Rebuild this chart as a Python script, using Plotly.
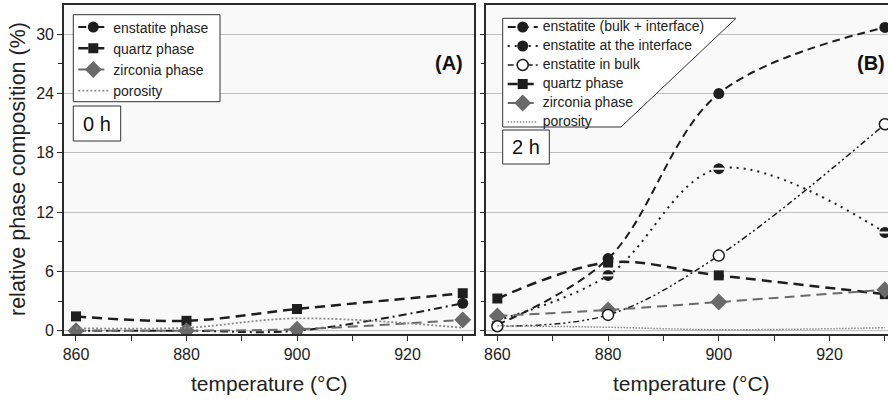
import plotly.graph_objects as go

# ---------------- data ----------------
temps = [860, 880, 900, 930]

# Panel A (0 h)
ens_A = [0.0, 0.0, 0.0, 2.77]
qtz_A = [1.45, 1.0, 2.2, 3.78]
zir_A = [0.0, 0.0, 0.15, 1.1]
por_A = [0.25, 0.3, 1.25, 0.3]

# Panel B (2 h)
ens_B = [0.6, 7.3, 24.0, 30.7]
int_B = [1.05, 5.6, 16.4, 9.95]
blk_B = [0.45, 1.6, 7.6, 20.9]
qtz_B = [3.25, 6.9, 5.6, 3.7]
zir_B = [1.5, 2.1, 2.9, 4.15]
por_B = [0.5, 0.35, 0.1, 0.3]

names_A = ["enstatite phase", "quartz phase", "zirconia phase", "porosity"]
names_B = ["enstatite (bulk + interface)", "enstatite at the interface",
           "enstatite in bulk", "quartz phase", "zirconia phase", "porosity"]

# ---------------- geometry helpers ----------------
W, H = 888, 402
ML, MR, MT, MB = 64, 0, 5, 68
PW, PH = W - ML - MR, H - MT - MB


def fx(px):
    return (px - ML) / PW


def fy(py):
    return (H - MB - py) / PH


FONT = "Liberation Sans, Arial, sans-serif"
BLACK = "#1e1e1e"
GREY = "#6a6a6a"
LGREY = "#8a8a8a"


def big(t):
    # text drawn at 14px while the legend row height follows the smaller legend font
    return '<span style="font-size:14px">' + t + '</span>'


fig = go.Figure()

# ---------------- panel A ----------------
fig.add_trace(go.Scatter(x=temps, y=ens_A, name=names_A[0], mode="lines+markers",
                         line=dict(color=BLACK, width=2, dash="8px,4px,2px,4px", shape="spline"),
                         marker=dict(symbol="circle", size=11, color=BLACK),
                         xaxis="x", yaxis="y", legend="legend"))
fig.add_trace(go.Scatter(x=temps, y=qtz_A, name=names_A[1], mode="lines+markers",
                         line=dict(color=BLACK, width=2.5, dash="10px,6px", shape="spline"),
                         marker=dict(symbol="square", size=10, color=BLACK),
                         xaxis="x", yaxis="y", legend="legend"))
fig.add_trace(go.Scatter(x=temps, y=zir_A, name=names_A[2], mode="lines+markers",
                         line=dict(color=GREY, width=2, dash="10px,6px", shape="spline"),
                         marker=dict(symbol="diamond", size=13, color=GREY),
                         xaxis="x", yaxis="y", legend="legend"))
fig.add_trace(go.Scatter(x=temps, y=por_A, name=names_A[3], mode="lines",
                         line=dict(color=LGREY, width=1.8, dash="2px,2px", shape="spline"),
                         xaxis="x", yaxis="y", legend="legend"))

# ---------------- panel B ----------------
fig.add_trace(go.Scatter(x=temps, y=ens_B, name=big(names_B[0]), mode="lines+markers",
                         line=dict(color=BLACK, width=2, dash="8px,5px", shape="spline"),
                         marker=dict(symbol="circle", size=11, color=BLACK),
                         xaxis="x2", yaxis="y2", legend="legend2", legendrank=1))
fig.add_trace(go.Scatter(x=temps, y=int_B, name=big(names_B[1]), mode="lines+markers",
                         line=dict(color=BLACK, width=2, dash="2px,5px", shape="spline"),
                         marker=dict(symbol="circle", size=11, color=BLACK),
                         xaxis="x2", yaxis="y2", legend="legend2", legendrank=2))
fig.add_trace(go.Scatter(x=temps, y=int_B, mode="markers", showlegend=False, hoverinfo="skip",
                         marker=dict(symbol="line-ew", size=8, line=dict(color="white", width=2)),
                         xaxis="x2", yaxis="y2"))
fig.add_trace(go.Scatter(x=temps, y=qtz_B, name=big(names_B[3]), mode="lines+markers",
                         line=dict(color=BLACK, width=2.5, dash="10px,6px", shape="spline"),
                         marker=dict(symbol="square", size=10, color=BLACK),
                         xaxis="x2", yaxis="y2", legend="legend2", legendrank=4))
fig.add_trace(go.Scatter(x=temps, y=zir_B, name=big(names_B[4]), mode="lines+markers",
                         line=dict(color=GREY, width=2, dash="10px,6px", shape="spline"),
                         marker=dict(symbol="diamond", size=13, color=GREY),
                         xaxis="x2", yaxis="y2", legend="legend2", legendrank=5))
fig.add_trace(go.Scatter(x=temps, y=blk_B, name=big(names_B[2]), mode="lines+markers",
                         line=dict(color=BLACK, width=1.5, dash="6px,3px,2px,3px,2px,3px", shape="spline"),
                         marker=dict(symbol="circle", size=11, color="white", line=dict(color=BLACK, width=1.5)),
                         xaxis="x2", yaxis="y2", legend="legend2", legendrank=3))
fig.add_trace(go.Scatter(x=temps, y=por_B, name=big(names_B[5]), mode="lines",
                         line=dict(color=LGREY, width=1.5, dash="1.5px,1.5px", shape="spline"),
                         xaxis="x2", yaxis="y2", legend="legend2", legendrank=6))

# ---------------- axes ----------------
axis_common = dict(showline=True, linecolor="#2a2a2a", linewidth=1.6,
                   ticks="outside", ticklen=5, tickwidth=1, tickcolor="#2a2a2a",
                   tickfont=dict(family=FONT, size=16, color="#222"), zeroline=False)

xa = dict(axis_common, tickmode="linear", tick0=860, dtick=20, showgrid=False,
          minor=dict(dtick=10, tick0=860, ticks="outside", ticklen=5, tickcolor="#2a2a2a", showgrid=False))
ya = dict(axis_common, tickmode="linear", tick0=0, dtick=6, range=[-0.334, 32.97],
          showgrid=True, gridcolor="#c0c0c0", gridwidth=1,
          minor=dict(dtick=3, tick0=0, ticks="outside", ticklen=4, tickcolor="#2a2a2a", showgrid=False))

fig.update_layout(
    width=W, height=H,
    margin=dict(l=ML, r=MR, t=MT, b=MB, autoexpand=False),
    paper_bgcolor="white", plot_bgcolor="#f9f9f9",
    font=dict(family=FONT, color="#222"),
    xaxis=dict(xa, domain=[0, fx(474.3)], range=[857.83, 932.09], mirror=True, anchor="y"),
    yaxis=dict(ya, domain=[0, 1], mirror=True, anchor="x"),
    xaxis2=dict(xa, domain=[fx(486.3), 1], range=[858.0, 930.57], mirror=True, anchor="y2"),
    yaxis2=dict(ya, domain=[0, 1], mirror=False, anchor="x2", showticklabels=False),
    legend=dict(x=fx(73.3), y=fy(11.5), xanchor="left", yanchor="top",
                bgcolor="rgba(0,0,0,0)", borderwidth=0,
                font=dict(family=FONT, size=14, color="#222"), tracegroupgap=0),
    legend2=dict(x=fx(502.7), y=fy(12.5), xanchor="left", yanchor="top",
                 bgcolor="rgba(0,0,0,0)", borderwidth=0,
                 font=dict(family=FONT, size=10.77, color="#222"), tracegroupgap=0),
    showlegend=True,
)

# legend frame for panel A
fig.add_shape(type="rect", xref="paper", yref="paper", x0=fx(73.3), x1=fx(220), y0=fy(101.7), y1=fy(14.7),
              line=dict(color="#333", width=1), fillcolor="white", layer="above")

# legend polygon for panel B
p = [(502.7, 18.3), (736, 18.3), (621, 127), (502.7, 127)]
path = "M " + " L ".join(f"{fx(a):.5f},{fy(b):.5f}" for a, b in p) + " Z"
fig.add_shape(type="path", path=path, xref="paper", yref="paper",
              line=dict(color="#333", width=1), fillcolor="white", layer="above")

# boxed time labels
for (x0, y0, x1, y1, t) in [(73.3, 106, 120.7, 141, "0 h"), (502.7, 130, 549.3, 164, "2 h")]:
    fig.add_shape(type="rect", xref="paper", yref="paper", x0=fx(x0), x1=fx(x1), y0=fy(y1), y1=fy(y0),
                  line=dict(color="#333", width=1), fillcolor="white", layer="above")
    fig.add_annotation(text=t, xref="paper", yref="paper", x=fx((x0 + x1) / 2), y=fy((y0 + y1) / 2),
                       showarrow=False, font=dict(family=FONT, size=20, color="#111"),
                       xanchor="center", yanchor="middle")

# panel letters
for (cx, t) in [(449, "(A)"), (871, "(B)")]:
    fig.add_annotation(text="<b>" + t + "</b>", xref="paper", yref="paper", x=fx(cx), y=fy(63),
                       showarrow=False, font=dict(family=FONT, size=20, color="#111"),
                       xanchor="center", yanchor="middle")

# axis titles
for cx in [269, 691.7]:
    fig.add_annotation(text="temperature (°C)", xref="paper", yref="paper", x=fx(cx), y=fy(383),
                       showarrow=False, font=dict(family=FONT, size=21, color="#222"),
                       xanchor="center", yanchor="middle")
fig.add_annotation(text="relative phase composition (%)", xref="paper", yref="paper",
                   x=fx(18), y=fy(169), textangle=-90, showarrow=False,
                   font=dict(family=FONT, size=21.5, color="#222"),
                   xanchor="center", yanchor="middle")

fig.write_html("out.html")
